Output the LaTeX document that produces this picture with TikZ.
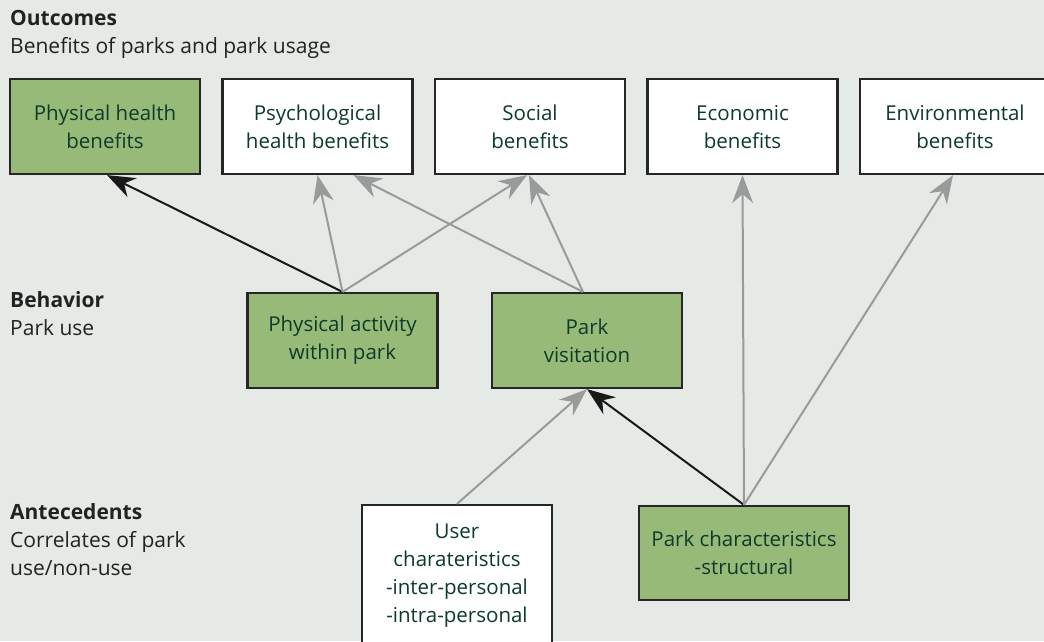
\documentclass[tikz,border=0pt]{standalone}
\usepackage{fontspec}
\setmainfont{Open Sans}
\usetikzlibrary{arrows.meta,positioning}

\definecolor{bgpanel}{HTML}{E6EAE6}
\definecolor{parkgreen}{HTML}{98BA78}
\definecolor{boxtext}{HTML}{0D3B2B}
\definecolor{labeltext}{HTML}{222222}
\definecolor{linkgray}{HTML}{9A9A9A}

\begin{document}
\begin{tikzpicture}[x=1pt, y=-1pt, node distance=212.5pt, on grid,
    box/.style={draw=black!85, line width=2.2pt, fill=white, text=boxtext,
      minimum width=190pt, minimum height=95pt, align=center,
      font=\fontsize{20.5}{28}\selectfont},
    greenbox/.style={box, fill=parkgreen},
    tag/.style={anchor=base west, text=labeltext, inner sep=0pt,
      font=\fontsize{21}{28}\selectfont},
    link/.style={line width=2pt, -{Stealth[length=28pt, width=21pt, inset=9pt]}},
    graylink/.style={link, linkgray},
    blacklink/.style={link, black!90}]
  \useasboundingbox (0,0) rectangle (1044,641);
  \clip (0,0) rectangle (1044,641);
  \fill[bgpanel] (0,0) rectangle (1044,641);

  % row labels
  \node[tag] (outlbl) at (10,25) {\textbf{Outcomes}};
  \node[tag] (outsub) at (10,53) {Benefits of parks and park usage};
  \node[tag] (behlbl) at (10,307) {\textbf{Behavior}};
  \node[tag] (behsub) at (10,335) {Park use};
  \node[tag] (antlbl) at (10,519) {\textbf{Antecedents}};
  \node[tag] (antsub) at (10,547) {Correlates of park};
  \node[tag] (antsub2) at (10,575) {use/non-use};

  % outcomes
  \node[greenbox] (phys)              at (105,126.5) {Physical health\\benefits};
  \node[box]      (psych) [right=of phys]  {Psychological\\health benefits};
  \node[box]      (social) [right=of psych] {Social\\benefits};
  \node[box]      (econ) [right=of social]  {Economic\vphantom{l}\\benefits};
  \node[box]      (env)  [right=of econ]    {Environmental\\benefits};

  % behavior
  \node[greenbox] (activity) at (342.5,340.5) {Physical activity\\within park};
  \node[greenbox] (visit) [right=244.5pt of activity] {Park\\visitation};

  % antecedents
  \node[box, minimum height=142pt] (user) at (457,576)
    {User\\charateristics\\-inter-personal\\-intra-personal};
  \node[greenbox, minimum width=210pt, minimum height=94pt] (parkchar) at (744,553)
    {Park characteristics\\-structural};

  % links
  \draw[blacklink] (activity.north) -- ([xshift=2pt]phys.south);
  \draw[graylink] (activity.north) -- (psych.south);
  \draw[graylink] (activity.north) -- ([xshift=-3pt]social.south);
  \draw[graylink] ([xshift=-4pt]visit.north) -- ([xshift=36pt]psych.south);
  \draw[graylink] ([xshift=-4pt]visit.north) -- ([xshift=-1pt]social.south);
  \draw[graylink] (user.north) -- (visit.south);
  \draw[blacklink] (parkchar.north) -- (visit.south);
  \draw[graylink] (parkchar.north) -- (econ.south);
  \draw[graylink] (parkchar.north) -- ([xshift=-2pt]env.south);
\end{tikzpicture}
\end{document}
